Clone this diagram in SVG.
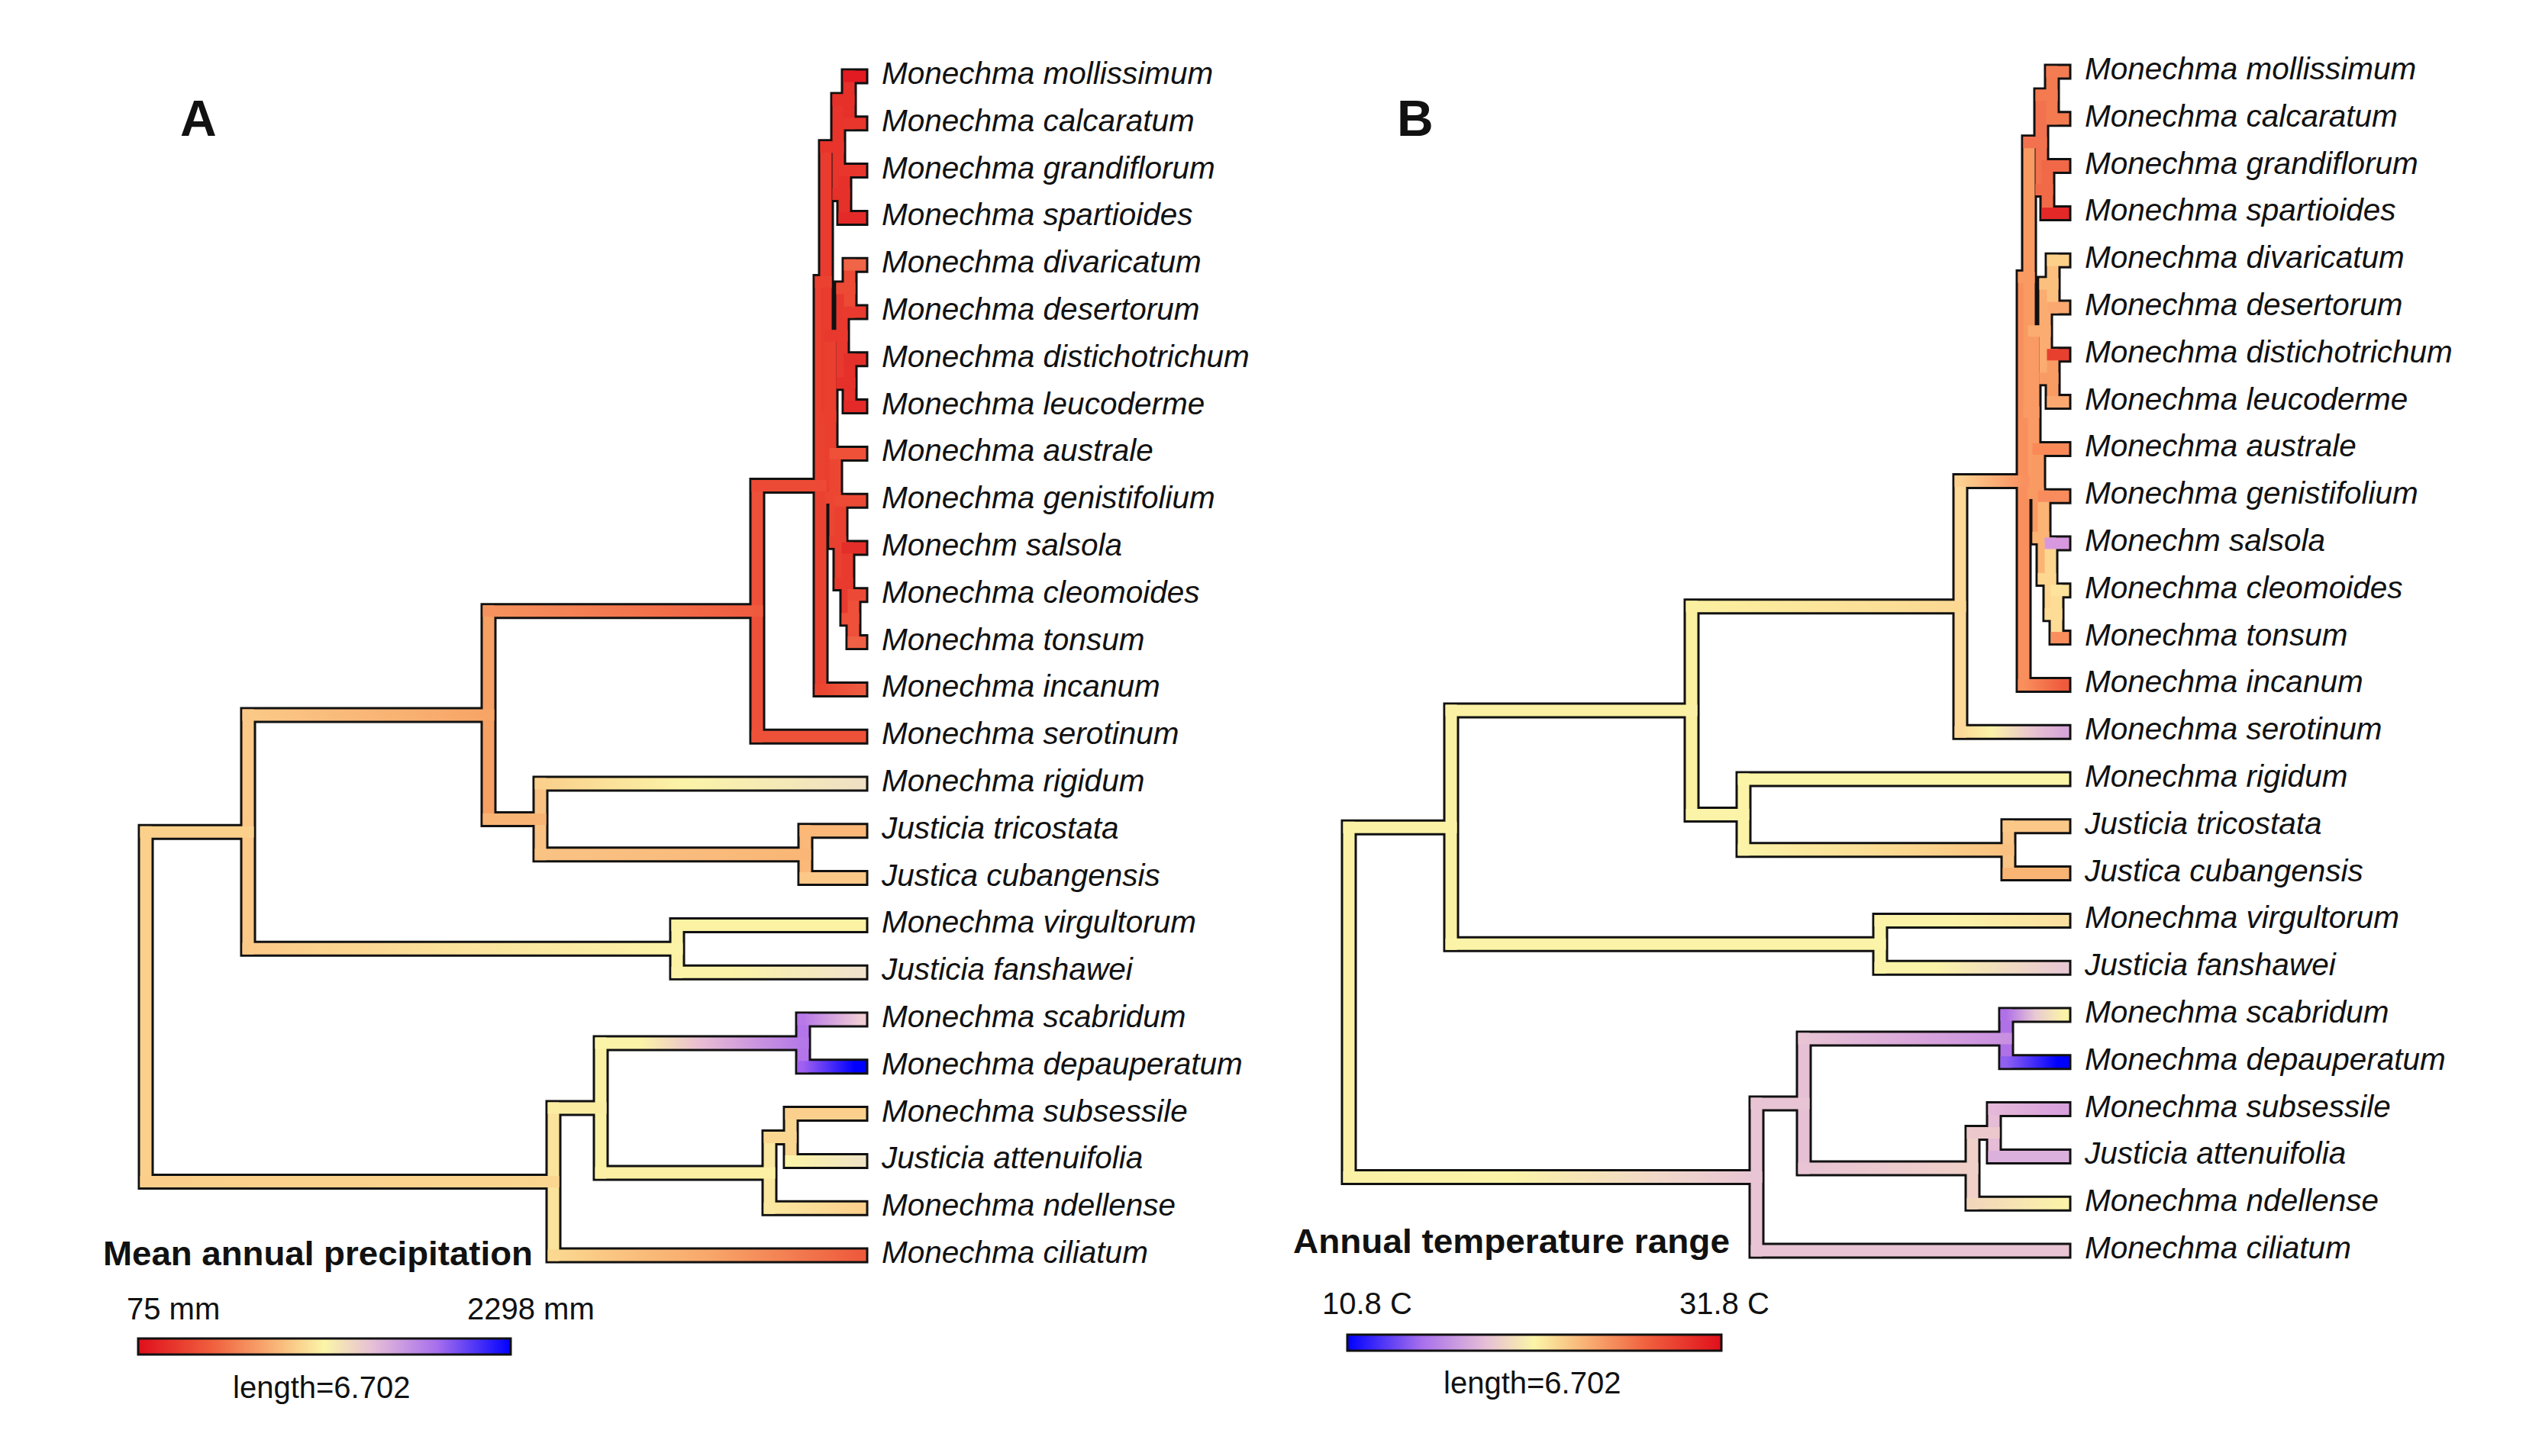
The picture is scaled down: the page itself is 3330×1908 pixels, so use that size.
<svg xmlns="http://www.w3.org/2000/svg" xmlns:xlink="http://www.w3.org/1999/xlink" width="3330" height="1908" viewBox="0 0 3330 1908">
<style>
.o{stroke:#111;stroke-width:21;stroke-linecap:square;fill:none}
.c path{stroke-width:15;stroke-linecap:square;fill:none}
.t{font-family:"Liberation Sans",Arial,Helvetica,sans-serif;font-style:italic;font-size:40.5px;fill:#111}
.lg{font-family:"Liberation Sans",Arial,Helvetica,sans-serif;font-size:40px;fill:#111}
.ttl{font-family:"Liberation Sans",Arial,Helvetica,sans-serif;font-size:44px;font-weight:bold;fill:#111}
.pl{font-family:"Liberation Sans",Arial,Helvetica,sans-serif;font-size:66px;font-weight:bold;fill:#111}
.bar{stroke:#111;stroke-width:3}
</style>
<defs>
<path id="tree-outline" class="o" d="M191 1090.2H325M191 1548.4H725M325 937.1H640M325 1243.3H887M640 800.8H992M640 1073.4H708M992 636.4H1075M992 965.2H1127M1075 369.4H1082M1075 903.4H1127M1082 192.7H1098M1082 546.1H1088M1098 130.9H1112M1098 254.5H1106M1112 100H1127M1112 161.8H1127M1106 223.6H1127M1106 285.4H1127M1088 439.9H1103M1088 652.3H1094M1103 378.1H1113M1103 501.7H1113M1113 347.2H1127M1113 409H1127M1113 470.8H1127M1113 532.6H1127M1094 594.4H1127M1094 710.3H1101M1101 656.2H1127M1101 764.4H1110M1110 718H1127M1110 810.7H1118M1118 779.8H1127M1118 841.6H1127M708 1027H1127M708 1119.7H1055M1055 1088.8H1127M1055 1150.6H1127M887 1212.4H1127M887 1274.2H1127M725 1451.9H787M725 1645H1127M787 1366.9H1052M787 1536.9H1008M1052 1336H1127M1052 1397.8H1127M1008 1490.5H1036M1008 1583.2H1127M1036 1459.6H1127M1036 1521.4H1127M191 1090.2V1548.4M325 937.1V1243.3M640 800.8V1073.4M992 636.4V965.2M1075 369.4V903.4M1082 192.7V546.1M1098 130.9V254.5M1112 100V161.8M1106 223.6V285.4M1088 439.9V652.3M1103 378.1V501.7M1113 347.2V409M1113 470.8V532.6M1094 594.4V710.3M1101 656.2V764.4M1110 718V810.7M1118 779.8V841.6M708 1027V1119.7M1055 1088.8V1150.6M887 1212.4V1274.2M725 1451.9V1645M787 1366.9V1536.9M1052 1336V1397.8M1008 1490.5V1583.2M1036 1459.6V1521.4"/>
<linearGradient id="gaPQ" gradientUnits="userSpaceOnUse" x1="325" y1="0" x2="640" y2="0"><stop offset="0" stop-color="#fbc987"/><stop offset="1" stop-color="#f7a466"/></linearGradient>
<linearGradient id="gaQS" gradientUnits="userSpaceOnUse" x1="640" y1="0" x2="992" y2="0"><stop offset="0" stop-color="#f5935e"/><stop offset="1" stop-color="#ef5a3e"/></linearGradient>
<linearGradient id="gaInc" gradientUnits="userSpaceOnUse" x1="1075" y1="0" x2="1127" y2="0"><stop offset="0" stop-color="#ea4530"/><stop offset="1" stop-color="#ee5a40"/></linearGradient>
<linearGradient id="gaRig" gradientUnits="userSpaceOnUse" x1="708" y1="0" x2="1127" y2="0"><stop offset="0" stop-color="#fad08c"/><stop offset="0.45" stop-color="#fbf3a8"/><stop offset="1" stop-color="#f0e0c4"/></linearGradient>
<linearGradient id="gaRJJ" gradientUnits="userSpaceOnUse" x1="708" y1="0" x2="1055" y2="0"><stop offset="0" stop-color="#f9c384"/><stop offset="1" stop-color="#f9b676"/></linearGradient>
<linearGradient id="gaPVF" gradientUnits="userSpaceOnUse" x1="325" y1="0" x2="887" y2="0"><stop offset="0" stop-color="#fbc987"/><stop offset="0.5" stop-color="#fbe39c"/><stop offset="1" stop-color="#fbf3a8"/></linearGradient>
<linearGradient id="gaFan" gradientUnits="userSpaceOnUse" x1="887" y1="0" x2="1127" y2="0"><stop offset="0.3" stop-color="#fbf3a8"/><stop offset="1" stop-color="#f0e2cc"/></linearGradient>
<linearGradient id="gaRL1" gradientUnits="userSpaceOnUse" x1="191" y1="0" x2="725" y2="0"><stop offset="0" stop-color="#fbcf8a"/><stop offset="1" stop-color="#fbd690"/></linearGradient>
<linearGradient id="gaCil" gradientUnits="userSpaceOnUse" x1="725" y1="0" x2="1127" y2="0"><stop offset="0" stop-color="#fbd890"/><stop offset="0.5" stop-color="#f8a86a"/><stop offset="1" stop-color="#ee5a3c"/></linearGradient>
<linearGradient id="gaSD" gradientUnits="userSpaceOnUse" x1="787" y1="0" x2="1052" y2="0"><stop offset="0" stop-color="#fbf3a8"/><stop offset="0.2" stop-color="#fbf3a8"/><stop offset="0.5" stop-color="#e8bcd4"/><stop offset="0.8" stop-color="#c890e0"/><stop offset="1" stop-color="#b478e8"/></linearGradient>
<linearGradient id="gaScab" gradientUnits="userSpaceOnUse" x1="1052" y1="0" x2="1127" y2="0"><stop offset="0" stop-color="#b878e8"/><stop offset="1" stop-color="#f0ccd4"/></linearGradient>
<linearGradient id="gaDep" gradientUnits="userSpaceOnUse" x1="1052" y1="0" x2="1127" y2="0"><stop offset="0" stop-color="#a060f0"/><stop offset="0.9" stop-color="#0000ff"/></linearGradient>
<linearGradient id="gaAtt" gradientUnits="userSpaceOnUse" x1="1036" y1="0" x2="1127" y2="0"><stop offset="0" stop-color="#fbf3a8"/><stop offset="1" stop-color="#f0e4c4"/></linearGradient>
<linearGradient id="gaNde" gradientUnits="userSpaceOnUse" x1="1008" y1="0" x2="1127" y2="0"><stop offset="0" stop-color="#fbe8a0"/><stop offset="1" stop-color="#fbd08c"/></linearGradient>
<linearGradient id="gbQS" gradientUnits="userSpaceOnUse" x1="640" y1="0" x2="992" y2="0"><stop offset="0" stop-color="#fbf0a0"/><stop offset="1" stop-color="#fcd893"/></linearGradient>
<linearGradient id="gbSX" gradientUnits="userSpaceOnUse" x1="992" y1="0" x2="1075" y2="0"><stop offset="0" stop-color="#fcd090"/><stop offset="1" stop-color="#f99060"/></linearGradient>
<linearGradient id="gbSer" gradientUnits="userSpaceOnUse" x1="992" y1="0" x2="1127" y2="0"><stop offset="0" stop-color="#fcd898"/><stop offset="0.3" stop-color="#fbf3a8"/><stop offset="0.7" stop-color="#e8c4d0"/><stop offset="1" stop-color="#d8a6d8"/></linearGradient>
<linearGradient id="gbInc" gradientUnits="userSpaceOnUse" x1="1075" y1="0" x2="1127" y2="0"><stop offset="0" stop-color="#f98f5c"/><stop offset="1" stop-color="#ef5a3c"/></linearGradient>
<linearGradient id="gbRJJ" gradientUnits="userSpaceOnUse" x1="708" y1="0" x2="1055" y2="0"><stop offset="0" stop-color="#fbf3a8"/><stop offset="0.6" stop-color="#fbd890"/><stop offset="1" stop-color="#f9c080"/></linearGradient>
<linearGradient id="gbVir" gradientUnits="userSpaceOnUse" x1="887" y1="0" x2="1127" y2="0"><stop offset="0.4" stop-color="#fbf3a8"/><stop offset="1" stop-color="#fbe0a0"/></linearGradient>
<linearGradient id="gbFan" gradientUnits="userSpaceOnUse" x1="887" y1="0" x2="1127" y2="0"><stop offset="0.3" stop-color="#fbf3a8"/><stop offset="1" stop-color="#e8c8d4"/></linearGradient>
<linearGradient id="gbRL1" gradientUnits="userSpaceOnUse" x1="191" y1="0" x2="725" y2="0"><stop offset="0" stop-color="#fbf1a6"/><stop offset="0.4" stop-color="#fbf3a8"/><stop offset="0.8" stop-color="#f0d4cc"/><stop offset="1" stop-color="#e8c4d4"/></linearGradient>
<linearGradient id="gbSD" gradientUnits="userSpaceOnUse" x1="787" y1="0" x2="1052" y2="0"><stop offset="0" stop-color="#e8c4d4"/><stop offset="0.6" stop-color="#d8a4dc"/><stop offset="1" stop-color="#c890e0"/></linearGradient>
<linearGradient id="gbScab" gradientUnits="userSpaceOnUse" x1="1052" y1="0" x2="1127" y2="0"><stop offset="0" stop-color="#b070e8"/><stop offset="0.5" stop-color="#e8c8d4"/><stop offset="1" stop-color="#fbf3a8"/></linearGradient>
<linearGradient id="gbDep" gradientUnits="userSpaceOnUse" x1="1052" y1="0" x2="1127" y2="0"><stop offset="0" stop-color="#9060f0"/><stop offset="0.9" stop-color="#0000ff"/></linearGradient>
<linearGradient id="gbSG" gradientUnits="userSpaceOnUse" x1="787" y1="0" x2="1008" y2="0"><stop offset="0" stop-color="#e8c4d4"/><stop offset="1" stop-color="#f0d0c8"/></linearGradient>
<linearGradient id="gbSub" gradientUnits="userSpaceOnUse" x1="1036" y1="0" x2="1127" y2="0"><stop offset="0" stop-color="#e4b8d8"/><stop offset="1" stop-color="#d8a0dc"/></linearGradient>
<linearGradient id="gbNde" gradientUnits="userSpaceOnUse" x1="1008" y1="0" x2="1127" y2="0"><stop offset="0" stop-color="#f2d6bc"/><stop offset="1" stop-color="#fbf3a8"/></linearGradient>
<linearGradient id="legA" x1="0" y1="0" x2="1" y2="0"><stop offset="0" stop-color="#e00f1c"/><stop offset="0.2" stop-color="#f0603e"/><stop offset="0.35" stop-color="#f8ab70"/><stop offset="0.5" stop-color="#fbf5a8"/><stop offset="0.63" stop-color="#e6bfd6"/><stop offset="0.8" stop-color="#a870ec"/><stop offset="1" stop-color="#0000ff"/></linearGradient>
<linearGradient id="legB" x1="0" y1="0" x2="1" y2="0"><stop offset="0" stop-color="#0000ff"/><stop offset="0.2" stop-color="#a870ec"/><stop offset="0.37" stop-color="#e6bfd6"/><stop offset="0.5" stop-color="#fbf5a8"/><stop offset="0.65" stop-color="#f8ab70"/><stop offset="0.8" stop-color="#f0603e"/><stop offset="1" stop-color="#e00f1c"/></linearGradient>
</defs>
<rect width="3330" height="1908" fill="#fff"/>

<g id="panel-A">
<g id="connectors-A">
<use xlink:href="#tree-outline" href="#tree-outline"/>
<g class="c">
<path d="M191 1090.2V1548.4" stroke="#fbd08b"/>
<path d="M325 937.1V1243.3" stroke="#fbc887"/>
<path d="M640 800.8V1073.4" stroke="#f6a064"/>
<path d="M992 636.4V965.2" stroke="#ee5039"/>
<path d="M1075 369.4V903.4" stroke="#ea4231"/>
<path d="M1082 192.7V546.1" stroke="#e93c2e"/>
<path d="M1098 130.9V254.5" stroke="#e8342b"/>
<path d="M1112 100V161.8" stroke="#e6302a"/>
<path d="M1106 223.6V285.4" stroke="#e6302a"/>
<path d="M1088 439.9V652.3" stroke="#ea3e2f"/>
<path d="M1103 378.1V501.7" stroke="#e9382d"/>
<path d="M1113 347.2V409" stroke="#ec4a35"/>
<path d="M1113 470.8V532.6" stroke="#e6302a"/>
<path d="M1094 594.4V710.3" stroke="#ec4633"/>
<path d="M1101 656.2V764.4" stroke="#ea4030"/>
<path d="M1110 718V810.7" stroke="#e83a2e"/>
<path d="M1118 779.8V841.6" stroke="#ee5039"/>
<path d="M708 1027V1119.7" stroke="#f9c283"/>
<path d="M1055 1088.8V1150.6" stroke="#fab879"/>
<path d="M887 1212.4V1274.2" stroke="#fbf2a6"/>
<path d="M725 1451.9V1645" stroke="#fae39b"/>
<path d="M787 1366.9V1536.9" stroke="#faf0a4"/>
<path d="M1052 1336V1397.8" stroke="#b474ea"/>
<path d="M1008 1490.5V1583.2" stroke="#fae7a0"/>
<path d="M1036 1459.6V1521.4" stroke="#fbd690"/>
<path d="M191 1090.2H325" stroke="#fbd08b"/>
<path d="M191 1548.4H725" stroke="url(#gaRL1)"/>
<path d="M325 937.1H640" stroke="url(#gaPQ)"/>
<path d="M325 1243.3H887" stroke="url(#gaPVF)"/>
<path d="M640 800.8H992" stroke="url(#gaQS)"/>
<path d="M640 1073.4H708" stroke="#f8b474"/>
<path d="M992 636.4H1075" stroke="#ec4a34"/>
<path d="M992 965.2H1127" stroke="#ed5239"/>
<path d="M1075 369.4H1082" stroke="#ea4231"/>
<path d="M1075 903.4H1127" stroke="url(#gaInc)"/>
<path d="M1082 192.7H1098" stroke="#e8342b"/>
<path d="M1082 546.1H1088" stroke="#ea3e2f"/>
<path d="M1098 130.9H1112" stroke="#e6302a"/>
<path d="M1098 254.5H1106" stroke="#e6302a"/>
<path d="M1112 100H1127" stroke="#e21a22"/>
<path d="M1112 161.8H1127" stroke="#e8362d"/>
<path d="M1106 223.6H1127" stroke="#e8362d"/>
<path d="M1106 285.4H1127" stroke="#e42a28"/>
<path d="M1088 439.9H1103" stroke="#e9382d"/>
<path d="M1088 652.3H1094" stroke="#ec4633"/>
<path d="M1103 378.1H1113" stroke="#ec4a35"/>
<path d="M1103 501.7H1113" stroke="#e6302a"/>
<path d="M1113 347.2H1127" stroke="#f06448"/>
<path d="M1113 409H1127" stroke="#e83a2e"/>
<path d="M1113 470.8H1127" stroke="#e4302b"/>
<path d="M1113 532.6H1127" stroke="#e42a28"/>
<path d="M1094 594.4H1127" stroke="#ee5038"/>
<path d="M1094 710.3H1101" stroke="#ea4030"/>
<path d="M1101 656.2H1127" stroke="#ec4a35"/>
<path d="M1101 764.4H1110" stroke="#e83a2e"/>
<path d="M1110 718H1127" stroke="#e42e2a"/>
<path d="M1110 810.7H1118" stroke="#ee5039"/>
<path d="M1118 779.8H1127" stroke="#ec4a36"/>
<path d="M1118 841.6H1127" stroke="#f06044"/>
<path d="M708 1027H1127" stroke="url(#gaRig)"/>
<path d="M708 1119.7H1055" stroke="url(#gaRJJ)"/>
<path d="M1055 1088.8H1127" stroke="#fbb878"/>
<path d="M1055 1150.6H1127" stroke="#fcc888"/>
<path d="M887 1212.4H1127" stroke="#fbf2a4"/>
<path d="M887 1274.2H1127" stroke="url(#gaFan)"/>
<path d="M725 1451.9H787" stroke="#faeda2"/>
<path d="M725 1645H1127" stroke="url(#gaCil)"/>
<path d="M787 1366.9H1052" stroke="url(#gaSD)"/>
<path d="M787 1536.9H1008" stroke="#fbf0a4"/>
<path d="M1052 1336H1127" stroke="url(#gaScab)"/>
<path d="M1052 1397.8H1127" stroke="url(#gaDep)"/>
<path d="M1008 1490.5H1036" stroke="#fbd690"/>
<path d="M1008 1583.2H1127" stroke="url(#gaNde)"/>
<path d="M1036 1459.6H1127" stroke="#fbd08c"/>
<path d="M1036 1521.4H1127" stroke="url(#gaAtt)"/>
</g>
</g>
<g id="tips-A" class="t" transform="translate(0,-4)">
<g id="A-mollissimum"><text x="1155" y="114">Monechma mollissimum</text></g>
<g id="A-calcaratum"><text x="1155" y="175.8">Monechma calcaratum</text></g>
<g id="A-grandiflorum"><text x="1155" y="237.6">Monechma grandiflorum</text></g>
<g id="A-spartioides"><text x="1155" y="299.4">Monechma spartioides</text></g>
<g id="A-divaricatum"><text x="1155" y="361.2">Monechma divaricatum</text></g>
<g id="A-desertorum"><text x="1155" y="423">Monechma desertorum</text></g>
<g id="A-distichotrichum"><text x="1155" y="484.8">Monechma distichotrichum</text></g>
<g id="A-leucoderme"><text x="1155" y="546.6">Monechma leucoderme</text></g>
<g id="A-australe"><text x="1155" y="608.4">Monechma australe</text></g>
<g id="A-genistifolium"><text x="1155" y="670.2">Monechma genistifolium</text></g>
<g id="A-salsola"><text x="1155" y="732">Monechm salsola</text></g>
<g id="A-cleomoides"><text x="1155" y="793.8">Monechma cleomoides</text></g>
<g id="A-tonsum"><text x="1155" y="855.6">Monechma tonsum</text></g>
<g id="A-incanum"><text x="1155" y="917.4">Monechma incanum</text></g>
<g id="A-serotinum"><text x="1155" y="979.2">Monechma serotinum</text></g>
<g id="A-rigidum"><text x="1155" y="1041">Monechma rigidum</text></g>
<g id="A-tricostata"><text x="1155" y="1102.8">Justicia tricostata</text></g>
<g id="A-cubangensis"><text x="1155" y="1164.6">Justica cubangensis</text></g>
<g id="A-virgultorum"><text x="1155" y="1226.4">Monechma virgultorum</text></g>
<g id="A-fanshawei"><text x="1155" y="1288.2">Justicia fanshawei</text></g>
<g id="A-scabridum"><text x="1155" y="1350">Monechma scabridum</text></g>
<g id="A-depauperatum"><text x="1155" y="1411.8">Monechma depauperatum</text></g>
<g id="A-subsessile"><text x="1155" y="1473.6">Monechma subsessile</text></g>
<g id="A-attenuifolia"><text x="1155" y="1535.4">Justicia attenuifolia</text></g>
<g id="A-ndellense"><text x="1155" y="1597.2">Monechma ndellense</text></g>
<g id="A-ciliatum"><text x="1155" y="1659">Monechma ciliatum</text></g>
</g>
</g>

<g id="panel-B" transform="translate(1576,-6)">
<g id="connectors-B">
<use xlink:href="#tree-outline" href="#tree-outline"/>
<g class="c">
<path d="M191 1090.2V1548.4" stroke="#fbf1a6"/>
<path d="M325 937.1V1243.3" stroke="#fbf1a4"/>
<path d="M640 800.8V1073.4" stroke="#fbefa0"/>
<path d="M992 636.4V965.2" stroke="#fdd898"/>
<path d="M1075 369.4V903.4" stroke="#f98f5c"/>
<path d="M1082 192.7V546.1" stroke="#f99a62"/>
<path d="M1098 130.9V254.5" stroke="#f27250"/>
<path d="M1112 100V161.8" stroke="#f47a50"/>
<path d="M1106 223.6V285.4" stroke="#f06a48"/>
<path d="M1088 439.9V652.3" stroke="#fa9a64"/>
<path d="M1103 378.1V501.7" stroke="#fbac70"/>
<path d="M1113 347.2V409" stroke="#fcc07e"/>
<path d="M1113 470.8V532.6" stroke="#f99c64"/>
<path d="M1094 594.4V710.3" stroke="#f99a62"/>
<path d="M1101 656.2V764.4" stroke="#fbb474"/>
<path d="M1110 718V810.7" stroke="#fdd690"/>
<path d="M1118 779.8V841.6" stroke="#fddc96"/>
<path d="M708 1027V1119.7" stroke="#fbf3a8"/>
<path d="M1055 1088.8V1150.6" stroke="#f9c484"/>
<path d="M887 1212.4V1274.2" stroke="#fbf3a8"/>
<path d="M725 1451.9V1645" stroke="#e8c4d4"/>
<path d="M787 1366.9V1536.9" stroke="#e6c0d4"/>
<path d="M1052 1336V1397.8" stroke="#b070e8"/>
<path d="M1008 1490.5V1583.2" stroke="#f0d0c8"/>
<path d="M1036 1459.6V1521.4" stroke="#e6bcd6"/>
<path d="M191 1090.2H325" stroke="#fbf2a6"/>
<path d="M191 1548.4H725" stroke="url(#gbRL1)"/>
<path d="M325 937.1H640" stroke="#fbf1a4"/>
<path d="M325 1243.3H887" stroke="#fbf3a8"/>
<path d="M640 800.8H992" stroke="url(#gbQS)"/>
<path d="M640 1073.4H708" stroke="#fbf3a8"/>
<path d="M992 636.4H1075" stroke="url(#gbSX)"/>
<path d="M992 965.2H1127" stroke="url(#gbSer)"/>
<path d="M1075 369.4H1082" stroke="#f99a62"/>
<path d="M1075 903.4H1127" stroke="url(#gbInc)"/>
<path d="M1082 192.7H1098" stroke="#f27250"/>
<path d="M1082 546.1H1088" stroke="#fa9a64"/>
<path d="M1098 130.9H1112" stroke="#f47a50"/>
<path d="M1098 254.5H1106" stroke="#f06a48"/>
<path d="M1112 100H1127" stroke="#f47c52"/>
<path d="M1112 161.8H1127" stroke="#f47a50"/>
<path d="M1106 223.6H1127" stroke="#f06848"/>
<path d="M1106 285.4H1127" stroke="#e42828"/>
<path d="M1088 439.9H1103" stroke="#fbac70"/>
<path d="M1088 652.3H1094" stroke="#f99a62"/>
<path d="M1103 378.1H1113" stroke="#fcc07e"/>
<path d="M1103 501.7H1113" stroke="#f99c64"/>
<path d="M1113 347.2H1127" stroke="#fdd08a"/>
<path d="M1113 409H1127" stroke="#fba870"/>
<path d="M1113 470.8H1127" stroke="#e8402f"/>
<path d="M1113 532.6H1127" stroke="#fba870"/>
<path d="M1094 594.4H1127" stroke="#f98a58"/>
<path d="M1094 710.3H1101" stroke="#fbb474"/>
<path d="M1101 656.2H1127" stroke="#f98c5c"/>
<path d="M1101 764.4H1110" stroke="#fdd690"/>
<path d="M1110 718H1127" stroke="#d898e0"/>
<path d="M1110 810.7H1118" stroke="#fddc96"/>
<path d="M1118 779.8H1127" stroke="#fde39c"/>
<path d="M1118 841.6H1127" stroke="#f98e5c"/>
<path d="M708 1027H1127" stroke="#fbf5a8"/>
<path d="M708 1119.7H1055" stroke="url(#gbRJJ)"/>
<path d="M1055 1088.8H1127" stroke="#fbc888"/>
<path d="M1055 1150.6H1127" stroke="#f9b474"/>
<path d="M887 1212.4H1127" stroke="url(#gbVir)"/>
<path d="M887 1274.2H1127" stroke="url(#gbFan)"/>
<path d="M725 1451.9H787" stroke="#e8c4d4"/>
<path d="M725 1645H1127" stroke="#e8c4d4"/>
<path d="M787 1366.9H1052" stroke="url(#gbSD)"/>
<path d="M787 1536.9H1008" stroke="url(#gbSG)"/>
<path d="M1052 1336H1127" stroke="url(#gbScab)"/>
<path d="M1052 1397.8H1127" stroke="url(#gbDep)"/>
<path d="M1008 1490.5H1036" stroke="#ecc8cc"/>
<path d="M1008 1583.2H1127" stroke="url(#gbNde)"/>
<path d="M1036 1459.6H1127" stroke="url(#gbSub)"/>
<path d="M1036 1521.4H1127" stroke="#dcb0dc"/>
</g>
</g>
<g id="tips-B" class="t" transform="translate(0,-4)">
<g id="B-mollissimum"><text x="1155" y="114">Monechma mollissimum</text></g>
<g id="B-calcaratum"><text x="1155" y="175.8">Monechma calcaratum</text></g>
<g id="B-grandiflorum"><text x="1155" y="237.6">Monechma grandiflorum</text></g>
<g id="B-spartioides"><text x="1155" y="299.4">Monechma spartioides</text></g>
<g id="B-divaricatum"><text x="1155" y="361.2">Monechma divaricatum</text></g>
<g id="B-desertorum"><text x="1155" y="423">Monechma desertorum</text></g>
<g id="B-distichotrichum"><text x="1155" y="484.8">Monechma distichotrichum</text></g>
<g id="B-leucoderme"><text x="1155" y="546.6">Monechma leucoderme</text></g>
<g id="B-australe"><text x="1155" y="608.4">Monechma australe</text></g>
<g id="B-genistifolium"><text x="1155" y="670.2">Monechma genistifolium</text></g>
<g id="B-salsola"><text x="1155" y="732">Monechm salsola</text></g>
<g id="B-cleomoides"><text x="1155" y="793.8">Monechma cleomoides</text></g>
<g id="B-tonsum"><text x="1155" y="855.6">Monechma tonsum</text></g>
<g id="B-incanum"><text x="1155" y="917.4">Monechma incanum</text></g>
<g id="B-serotinum"><text x="1155" y="979.2">Monechma serotinum</text></g>
<g id="B-rigidum"><text x="1155" y="1041">Monechma rigidum</text></g>
<g id="B-tricostata"><text x="1155" y="1102.8">Justicia tricostata</text></g>
<g id="B-cubangensis"><text x="1155" y="1164.6">Justica cubangensis</text></g>
<g id="B-virgultorum"><text x="1155" y="1226.4">Monechma virgultorum</text></g>
<g id="B-fanshawei"><text x="1155" y="1288.2">Justicia fanshawei</text></g>
<g id="B-scabridum"><text x="1155" y="1350">Monechma scabridum</text></g>
<g id="B-depauperatum"><text x="1155" y="1411.8">Monechma depauperatum</text></g>
<g id="B-subsessile"><text x="1155" y="1473.6">Monechma subsessile</text></g>
<g id="B-attenuifolia"><text x="1155" y="1535.4">Justicia attenuifolia</text></g>
<g id="B-ndellense"><text x="1155" y="1597.2">Monechma ndellense</text></g>
<g id="B-ciliatum"><text x="1155" y="1659">Monechma ciliatum</text></g>
</g>
</g>

<g id="label-A"><text class="pl" x="236" y="178">A</text></g>
<g id="label-B"><text class="pl" x="1830" y="178">B</text></g>

<g id="legend-A">
<text class="ttl" x="135" y="1658" textLength="563" lengthAdjust="spacingAndGlyphs">Mean annual precipitation</text>
<text class="lg" x="166" y="1729">75 mm</text>
<text class="lg" x="612" y="1729">2298 mm</text>
<rect class="bar" x="181" y="1754" width="488" height="21" fill="url(#legA)"/>
<text class="lg" x="305" y="1832">length=6.702</text>
</g>
<g id="legend-B">
<text class="ttl" x="1694" y="1642" textLength="572" lengthAdjust="spacingAndGlyphs">Annual temperature range</text>
<text class="lg" x="1732" y="1722">10.8 C</text>
<text class="lg" x="2200" y="1722">31.8 C</text>
<rect class="bar" x="1765" y="1749" width="490" height="21" fill="url(#legB)"/>
<text class="lg" x="1891" y="1826">length=6.702</text>
</g>
</svg>
